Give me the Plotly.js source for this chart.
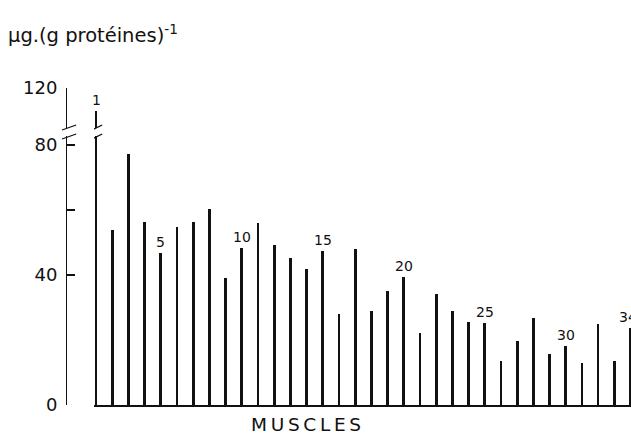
<!DOCTYPE html>
<html>
<head>
<meta charset="utf-8">
<script src="https://cdn.plot.ly/plotly-3.0.1.min.js"></script>
<style>html,body{margin:0;padding:0;background:#fff;}#chart{width:631px;height:435px;}</style>
</head>
<body>
<div id="chart"></div>
<script>
// Data
const muscles = [1,2,3,4,5,6,7,8,9,10,11,12,13,14,15,16,17,18,19,20,21,22,23,24,25,26,27,28,29,30,31,32,33,34];
const contents = [113,53.8,77.2,56.2,46.7,54.7,56.2,60.3,39.2,48.2,56.1,49.1,45.4,41.8,47.3,28.0,48.1,29.0,35.2,39.5,22.2,34.1,29.0,25.4,25.2,13.5,19.7,26.7,15.6,18.2,13.0,24.9,13.5,23.8];
const labelled = [1,5,10,15,20,25,30,34];
const yTickVals = [0,40,60,80];
const yTickText = ['0','40','','80'];
const yTopTickVals = [120];
const yTopTickText = ['120'];
const yTitle = 'μg.(g protéines)<sup>-1</sup>';
const xTitle = 'M\u2009U\u2009S\u2009C\u2009L\u2009E\u2009S';

const FONT = 'DejaVu Sans, sans-serif';
const INK = '#111';

const barStyle = {type:'bar', marker:{color:INK, line:{width:0}}, width:0.17, hoverinfo:'skip', showlegend:false};
const traces = [
  Object.assign({x:muscles, y:contents, xaxis:'x', yaxis:'y'}, barStyle),
  Object.assign({x:muscles, y:contents, xaxis:'x', yaxis:'y2'}, barStyle)
];

const annotations = labelled.map(n => ({
  x:n, y:contents[n-1], xref:'x', yref:(contents[n-1] > 83 ? 'y2' : 'y'),
  text:String(n), showarrow:false, xanchor:'center', yanchor:'bottom', yshift:1,
  xshift:(n === 34 ? -3 : 0),
  font:{family:FONT, size:14, color:INK}
}));
annotations.push({xref:'paper', yref:'paper', x:-0.106, y:1.17, xanchor:'left', yanchor:'middle',
  text:yTitle, showarrow:false, font:{family:FONT, size:19.5, color:INK}});
annotations.push({xref:'paper', yref:'paper', x:0.425, y:-0.06, xanchor:'center', yanchor:'middle',
  text:xTitle, showarrow:false, font:{family:FONT, size:18.5, color:INK}});

// axis-break marks (decoration)
const brk = (x0,y0,x1,y1,xr,yr) => ({type:'line', xref:xr, yref:yr, x0, y0, x1, y1, line:{color:INK, width:1.3}});
const shapes = [
  brk(-0.007, (405-130)/317, 0.018, (405-125)/317, 'paper', 'paper'),
  brk(-0.007, (405-139)/317, 0.018, (405-134)/317, 'paper', 'paper'),
  brk(0.62, (405-131)/317, 1.38, (405-125)/317, 'x', 'paper'),
  brk(0.62, (405-140)/317, 1.38, (405-134)/317, 'x', 'paper')
];

const axisCommon = {showgrid:false, zeroline:false, showline:true, linecolor:INK, linewidth:1.3,
  ticks:'inside', tickcolor:INK, tickwidth:1.3, ticklen:8, anchor:'free', position:0,
  tickfont:{family:FONT, size:18, color:INK}, ticklabelstandoff:5, fixedrange:true};

const layout = {
  width:631, height:435,
  margin:{l:66, r:0, t:88, b:30, pad:0},
  paper_bgcolor:'#fff', plot_bgcolor:'#fff',
  bargap:0,
  xaxis:{domain:[0.0496,1], range:[0.876,34.03], showgrid:false, zeroline:false, showline:true,
    linecolor:INK, linewidth:1.5, ticks:'', showticklabels:false, anchor:'y', fixedrange:true},
  yaxis:Object.assign({}, axisCommon, {domain:[0,0.8486], range:[0,82.8], tickmode:'array',
    tickvals:yTickVals, ticktext:yTickText}),
  yaxis2:Object.assign({}, axisCommon, {domain:[0.8738,1], range:[107.7,120.05], tickmode:'array',
    tickvals:yTopTickVals, ticktext:yTopTickText, ticklen:11}),
  annotations, shapes
};

Plotly.newPlot('chart', traces, layout, {staticPlot:true, displayModeBar:false});
</script>
</body>
</html>
